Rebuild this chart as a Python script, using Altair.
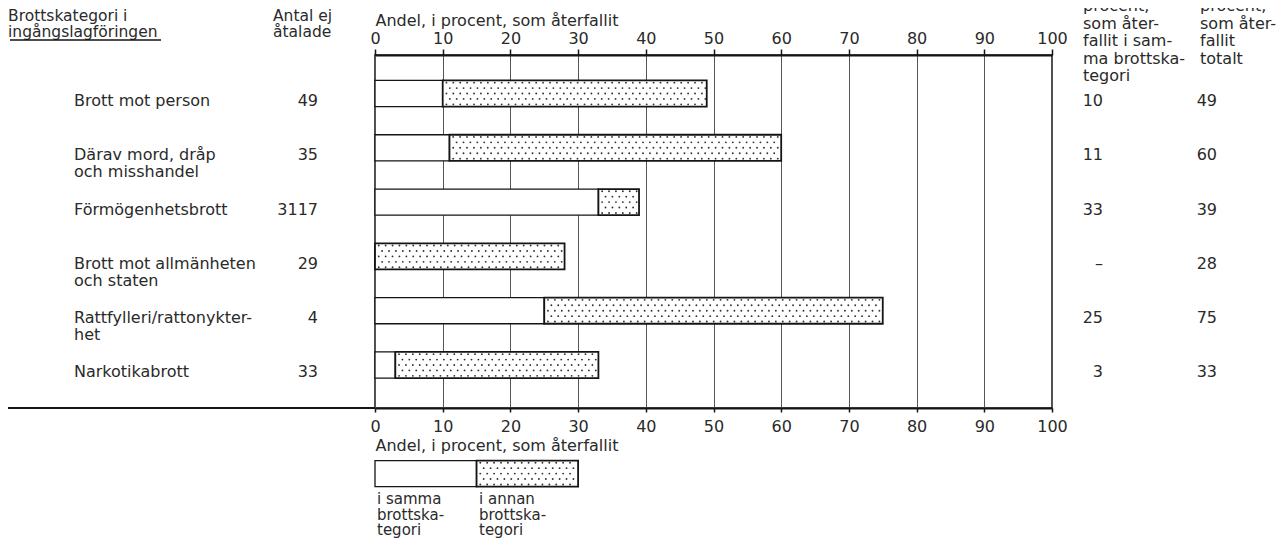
import altair as alt
import pandas as pd

# ---------------- data ----------------
categories = [
    "Brott mot person",
    "Därav mord, dråp\noch misshandel",
    "Förmögenhetsbrott",
    "Brott mot allmänheten\noch staten",
    "Rattfylleri/rattonykter-\nhet",
    "Narkotikabrott",
]
antal_ej_atalade = ["49", "35", "3117", "29", "4", "33"]
same_pct = [10, 11, 33, 0, 25, 3]          # återfallit i samma brottskategori
total_pct = [49, 60, 39, 28, 75, 33]       # återfallit totalt
same_text = ["10", "11", "33", "–", "25", "3"]
total_text = ["49", "60", "39", "28", "75", "33"]
x_ticks = [0, 10, 20, 30, 40, 50, 60, 70, 80, 90, 100]
axis_title = "Andel, i procent, som återfallit"
legend_labels = ["i samma\nbrottska-\ntegori", "i annan\nbrottska-\ntegori"]
header_left = ["Brottskategori i", "ingångslagföringen"]
header_count = ["Antal ej", "åtalade"]
header_same = ["procent,", "som åter-", "fallit i sam-", "ma brottska-", "tegori"]
header_total = ["procent,", "som åter-", "fallit", "totalt"]

# legend sample bar (layout, in axis units)
LEGEND_ROW = 7
LEGEND_SPLIT = 15
LEGEND_END = 30

# ---------------- style ----------------
FONT = "DejaVu Sans"
FS = 16
TXT = "#2a2a2a"
LINE = "#151515"
W, H = 677, 353
HALF = 0.24

df = pd.DataFrame({
    "row": list(range(len(categories))),
    "category": categories,
    "antal": antal_ej_atalade,
    "same": same_pct,
    "total": total_pct,
    "same_text": same_text,
    "total_text": total_text,
})
bars_df = pd.concat([
    df[["row", "same", "total"]],
    pd.DataFrame({"row": [LEGEND_ROW], "same": [LEGEND_SPLIT], "total": [LEGEND_END]}),
], ignore_index=True)

xscale = alt.Scale(domain=[0, 100], nice=False, zero=False)
yscale = alt.Scale(domain=[-0.709, 5.792], reverse=True, nice=False, zero=False)

top_axis = alt.Axis(
    orient="top", values=x_ticks, format="d", title=axis_title,
    titleX=0, titleY=-30, titleAlign="left", titleAnchor="start", titleBaseline="alphabetic",
    titleFont=FONT, titleFontSize=FS, titleFontWeight="normal", titleColor=TXT,
    labelFont=FONT, labelFontSize=FS, labelColor=TXT, labelBaseline="alphabetic",
    labelPadding=6, labelFlush=False, labelOverlap=False,
    tickSize=6, tickColor=LINE, tickWidth=1.5,
    domainColor=LINE, domainWidth=2,
    grid=True, gridColor="#555555", gridWidth=1,
)
bottom_axis = alt.Axis(
    orient="bottom", values=x_ticks, format="d", title=axis_title,
    titleX=0, titleY=42, titleAlign="left", titleAnchor="start", titleBaseline="alphabetic",
    titleFont=FONT, titleFontSize=FS, titleFontWeight="normal", titleColor=TXT,
    labelFont=FONT, labelFontSize=FS, labelColor=TXT, labelBaseline="alphabetic",
    labelPadding=19, labelFlush=False, labelOverlap=False,
    tickSize=4, tickColor=LINE, tickWidth=1.5,
    domainColor=LINE, domainWidth=2, grid=False,
)

bars_base = alt.Chart(bars_df).transform_calculate(
    y0=f"datum.row - {HALF}", y1=f"datum.row + {HALF}", x0="0"
)

white = bars_base.mark_rect(fill="white", stroke=LINE, strokeWidth=1.3).encode(
    x=alt.X("x0:Q", scale=xscale, axis=top_axis),
    x2="same:Q",
    y=alt.Y("y0:Q", scale=yscale, axis=None),
    y2="y1:Q",
)
dotted = bars_base.mark_rect(fill="white", stroke=LINE, strokeWidth=1.8).encode(
    x=alt.X("same:Q", scale=xscale, axis=bottom_axis),
    x2="total:Q",
    y=alt.Y("y0:Q", scale=yscale, axis=None),
    y2="y1:Q",
)
dots = alt.Chart(bars_df).transform_calculate(
    ks="[0, 1, 2, 3, 4]"
).transform_flatten(["ks"]).transform_calculate(
    xs="sequence(datum.same + 0.55 + (datum.ks % 2) * 0.5, datum.total - 0.2, 1.02)"
).transform_flatten(["xs"]).transform_calculate(
    yd="datum.row + (datum.ks - 2) * 0.1"
).mark_circle(size=3.5, color="#333333", opacity=1).encode(
    x=alt.X("xs:Q", scale=xscale, axis=None),
    y=alt.Y("yd:Q", scale=yscale, axis=None),
)

text_kw = dict(font=FONT, fontSize=FS, color=TXT, baseline="alphabetic", lineBreak="\n", lineHeight=17)

cat_text = alt.Chart(df).mark_text(align="left", dy=12.5, **text_kw).encode(
    x=alt.value(-301), y=alt.Y("row:Q", scale=yscale, axis=None), text="category:N")
count_text = alt.Chart(df).mark_text(align="right", dy=12.5, **text_kw).encode(
    x=alt.value(-57), y=alt.Y("row:Q", scale=yscale, axis=None), text="antal:N")
same_col = alt.Chart(df).mark_text(align="right", dy=12.5, **text_kw).encode(
    x=alt.value(728), y=alt.Y("row:Q", scale=yscale, axis=None), text="same_text:N")
total_col = alt.Chart(df).mark_text(align="right", dy=12.5, **text_kw).encode(
    x=alt.value(842), y=alt.Y("row:Q", scale=yscale, axis=None), text="total_text:N")


def block(lines, x, y, lh=17, align="left", fs=FS):
    kw = dict(text_kw)
    kw["lineHeight"] = lh
    kw["fontSize"] = fs
    return alt.Chart(pd.DataFrame({"t": ["\n".join(lines)]})).mark_text(align=align, **kw).encode(
        x=alt.value(x), y=alt.value(y), text="t:N")


hdr_left = block(header_left, -367, -34, lh=15.5, fs=15.5)
hdr_count = block(header_count, -102, -34, lh=15.5, fs=15.5)
hdr_same = block(header_same, 708, -44, lh=17.5)
hdr_total = block(header_total, 825, -44, lh=17.5)
leg_same = block(legend_labels[0].split("\n"), 2, 449, lh=15.5, fs=15)
leg_other = block(legend_labels[1].split("\n"), 104, 449, lh=15.5, fs=15)

one = pd.DataFrame({"a": [0]})
underline = alt.Chart(one).mark_rule(color=LINE, strokeWidth=1.3).encode(
    x=alt.value(-365), x2=alt.value(-214), y=alt.value(-15))
base_line = alt.Chart(one).mark_rule(color=LINE, strokeWidth=2).encode(
    x=alt.value(-367), x2=alt.value(0), y=alt.value(H))

chart = alt.layer(
    white, dotted, dots,
    cat_text, count_text, same_col, total_col,
    hdr_left, hdr_count, hdr_same, hdr_total,
    leg_same, leg_other, underline, base_line,
).resolve_axis(x="independent").properties(
    width=W, height=H,
    autosize=alt.AutoSizeParams(type="none"),
    padding={"left": 367, "top": 47, "right": 224, "bottom": 132},
    background="white",
).configure_view(stroke=LINE, strokeWidth=1.5)

chart.save("out.html", embed_options={"renderer": "svg", "actions": False})
